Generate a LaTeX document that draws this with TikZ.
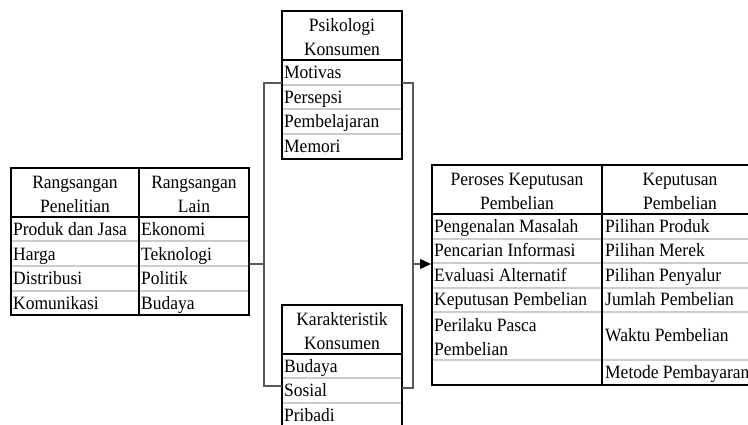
\documentclass[tikz,border=0pt]{standalone}
\usepackage{fontspec}
\setmainfont[FakeStretch=0.93]{Liberation Serif}
\usetikzlibrary{arrows.meta}
\begin{document}
\begin{tikzpicture}[x=1pt,y=-1pt,
  frame/.style={draw=black,line width=1.6pt,inner sep=0pt,outer sep=0pt,anchor=north west},
  sep/.style={draw=black,line width=1.6pt},
  rowline/.style={draw=black!20,line width=1.5pt},
  conn/.style={draw=black!65,line width=1.2pt},
  cell/.style={anchor=west,inner sep=0pt,text height=12.5pt,text depth=4pt,font=\fontsize{18.8}{24}\selectfont},
  head/.style={align=center,inner sep=0pt,font=\fontsize{18.8}{24}\selectfont}]
\useasboundingbox[fill=white] (0,0) rectangle (748,425);
\clip (0,0) rectangle (748,425);

% ---------- left table ----------
\node[frame,minimum width=238pt,minimum height=147pt] (lt) at (11,168) {};
\foreach \y in {241,266,291} \draw[rowline] (12,\y) -- (248,\y);
\draw[sep] (11,217) -- (249,217);
\draw[sep] (139,168) -- (139,315);
\draw[draw=black,line width=1.6pt] (11,168) rectangle (249,315);
\node[head] (lth1) at (75,194.5) {Rangsangan\\Penelitian};
\node[head] (lth2) at (194,194.5) {Rangsangan\\Lain};
\node[cell] (l11) at (13,231.5) {Produk dan Jasa};
\node[cell] (l12) at (13,256) {Harga};
\node[cell] (l13) at (13,280.5) {Distribusi};
\node[cell] (l14) at (13,305) {Komunikasi};
\node[cell] (l21) at (141,231.5) {Ekonomi};
\node[cell] (l22) at (141,256) {Teknologi};
\node[cell] (l23) at (141,280.5) {Politik};
\node[cell] (l24) at (141,305) {Budaya};

% ---------- Psikologi Konsumen ----------
\node[frame,minimum width=120pt,minimum height=148pt] (pk) at (282,11) {};
\foreach \y in {85,109,134} \draw[rowline] (283,\y) -- (401,\y);
\draw[sep] (282,60) -- (402,60);
\draw[draw=black,line width=1.6pt] (282,11) rectangle (402,159);
\node[head] (pkh) at (342,37) {Psikologi\\Konsumen};
\node[cell] (p1) at (284,74.5) {Motivas};
\node[cell] (p2) at (284,99) {Persepsi};
\node[cell] (p3) at (284,123.5) {Pembelajaran};
\node[cell] (p4) at (284,148.5) {Memori};

% ---------- Karakteristik Konsumen ----------
\node[frame,minimum width=120pt,minimum height=140pt] (kk) at (282,305) {};
\foreach \y in {378,403,428} \draw[rowline] (283,\y) -- (401,\y);
\draw[sep] (282,354) -- (402,354);
\draw[draw=black,line width=1.6pt] (282,305) rectangle (402,445);
\node[head] (kkh) at (342,331) {Karakteristik\\Konsumen};
\node[cell] (k1) at (284,368) {Budaya};
\node[cell] (k2) at (284,392.5) {Sosial};
\node[cell] (k3) at (284,417) {Pribadi};

% ---------- right table ----------
\node[frame,minimum width=326pt,minimum height=220pt] (rt) at (432,165) {};
\foreach \y in {239,263,288,312,360} \draw[rowline] (433,\y) -- (757,\y);
\draw[sep] (432,214) -- (758,214);
\draw[sep] (602,165) -- (602,385);
\draw[draw=black,line width=1.6pt] (432,165) rectangle (758,385);
\node[head] (rth1) at (517,191) {Peroses Keputusan\\Pembelian};
\node[head] (rth2) at (680,191) {Keputusan\\Pembelian};
\node[cell] (r11) at (434,228.5) {Pengenalan Masalah};
\node[cell] (r12) at (434,252.5) {Pencarian Informasi};
\node[cell] (r13) at (434,277) {Evaluasi Alternatif};
\node[cell] (r14) at (434,301.5) {Keputusan Pembelian};
\node[cell,align=left,text height=,text depth=] (r15) at (434,337) {Perilaku Pasca\\Pembelian};
\node[cell] (r21) at (605,228.5) {Pilihan Produk};
\node[cell] (r22) at (605,252.5) {Pilihan Merek};
\node[cell] (r23) at (605,277) {Pilihan Penyalur};
\node[cell] (r24) at (605,301.5) {Jumlah Pembelian};
\node[cell] (r25) at (605,337.5) {Waktu Pembelian};
\node[cell] (r26) at (605,374) {Metode Pembayaran};

% ---------- connectors ----------
\coordinate (jl) at (264,264);
\coordinate (bl1) at (264,83);
\coordinate (bl2) at (264,386);
\coordinate (br1) at (413,83);
\coordinate (br2) at (413,388);
\coordinate (ja) at (413,264);
\draw[conn] (lt.east |- jl) -- (jl);
\draw[conn] (pk.west |- bl1) -- (bl1) -- (bl2) -- (kk.west |- bl2);
\draw[conn] (pk.east |- br1) -- (br1) -- (br2) -- (kk.east |- br2);
\draw[conn,-{Triangle[length=11pt,width=10pt,color=black,fill=black]},shorten >=1pt] (ja) -- (rt.west |- ja);
\end{tikzpicture}
\end{document}
